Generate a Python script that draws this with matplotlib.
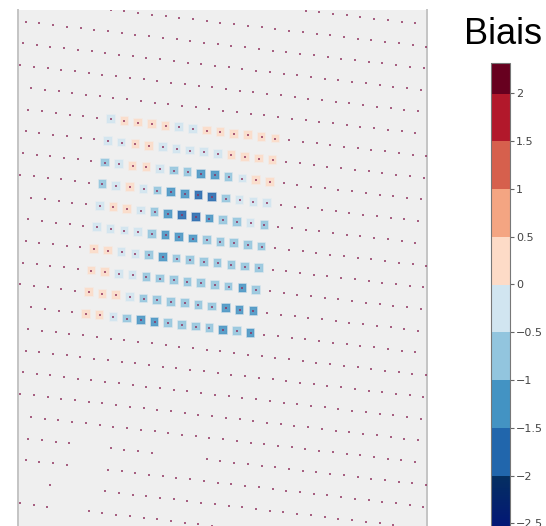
import numpy as np
import matplotlib
matplotlib.use("Agg")
import matplotlib.pyplot as plt
from matplotlib.colors import LinearSegmentedColormap, Normalize
from matplotlib.cm import ScalarMappable
from matplotlib.ticker import FixedLocator, FuncFormatter

# bias scale: band edges and band colours (lowest band fades to navy)
band_edges = [-2.8, -2.0, -1.5, -1.0, -0.5, 0.0, 0.5, 1.0, 1.5, 2.0, 2.316]
band_colors = ["#053061", "#2166ac", "#4393c3", "#92c5de", "#d1e5f0",
               "#fddbc7", "#f4a582", "#d6604d", "#b2182b", "#67001f"]
low_end_color = "#020a80"
cbar_ticks = [2, 1.5, 1, 0.5, 0, -0.5, -1, -1.5, -2, -2.5]

# model grid (map coordinates, km): origin, column step, row step
grid_origin = (92.7, 406.7)
col_step = (13.72, -1.6)
row_step = (-2.75, -21.6)
grid_cols = range(-9, 29)
grid_rows = range(-8, 23)
# grid cells with no point
missing_cells = [(1, 15), (2, 15), (7, 15), (8, 15), (9, 15), (1, 16), (2, 16),
                 (-3, 17), (-2, 17), (0, 17), (1, 17), (2, 17), (0, 18), (1, 18)]

# bias on the evaluated cells, rows top to bottom, 13 columns each
bias = [
    [-0.2, 0.3, 0.2, 0.3, 0.2, -0.1, -0.2, 0.3, 0.2, 0.3, 0.3, 0.2, 0.3],
    [-0.2, -0.3, 0.2, 0.3, -0.2, -0.2, -0.3, -0.2, -0.3, 0.2, 0.3, 0.2, 0.3],
    [-0.7, -0.3, 0.2, 0.3, -0.3, -0.7, -0.8, -1.2, -1.3, -0.8, -0.2, 0.2, 0.3],
    [-0.7, -0.2, 0.3, -0.3, -0.8, -1.2, -1.3, -1.7, -1.8, -0.8, -0.3, -0.2, -0.3],
    [-0.2, 0.2, 0.3, -0.2, -0.7, -1.3, -1.7, -1.8, -1.2, -0.8, -0.7, -0.3, -0.7],
    [-0.3, -0.2, -0.3, -0.3, -0.7, -1.2, -1.3, -1.2, -0.8, -0.7, -0.8, -0.7, -0.8],
    [0.3, 0.2, -0.3, -0.2, -0.8, -1.2, -0.7, -0.8, -0.7, -0.8, -0.7, -0.8, -0.7],
    [0.2, 0.3, -0.2, -0.3, -0.7, -0.8, -0.7, -0.8, -0.7, -0.8, -0.7, -1.2, -0.8],
    [0.3, 0.2, 0.3, -0.2, -0.8, -0.7, -0.8, -0.7, -0.8, -0.7, -1.3, -1.2, -1.3],
    [0.2, 0.3, -0.3, -0.7, -1.2, -1.3, -0.8, -0.7, -0.8, -0.7, -1.2, -0.8, -1.3],
]


def grid_to_map(i, j):
    x = grid_origin[0] + i * col_step[0] + j * row_step[0]
    y = grid_origin[1] + i * col_step[1] + j * row_step[1]
    return x, y


vmin, vmax = band_edges[0], band_edges[-1]
norm = Normalize(vmin, vmax)
nodes = []
for k, col in enumerate(band_colors):
    lo = (band_edges[k] - vmin) / (vmax - vmin)
    hi = (band_edges[k + 1] - vmin) / (vmax - vmin)
    nodes.append((lo, low_end_color if k == 0 else col))
    nodes.append((hi, col))
cmap = LinearSegmentedColormap.from_list("biais", nodes, N=1024)

W, H = 546, 526
fig = plt.figure(figsize=(W / 100, H / 100), dpi=100)

# map panel (extends below the picture edge)
ax = fig.add_axes([18 / W, 1 - 560 / H, 409 / W, 550 / H])
ax.set_facecolor("#efefef")
ax.set_xlim(0, 409)
ax.set_ylim(-34, 516)
ax.set_xticks([])
ax.set_yticks([])
for side in ["top", "bottom"]:
    ax.spines[side].set_visible(False)
for side in ["left", "right"]:
    ax.spines[side].set_color("#c4c4c4")
    ax.spines[side].set_linewidth(1.4)

# evaluated cells as squares
bias = np.array(bias)
sq_x, sq_y, sq_v = [], [], []
for j in range(bias.shape[0]):
    for i in range(bias.shape[1]):
        x, y = grid_to_map(i, j)
        sq_x.append(x)
        sq_y.append(y)
        sq_v.append(bias[j, i])
face = cmap(norm(np.array(sq_v)))
edge = face.copy()
face[:, 3] = 0.85
edge[:, 3] = 0.3
ax.scatter(sq_x, sq_y, marker="s", s=30, facecolors=face, edgecolors=edge,
           linewidths=1.4, zorder=2)

# all grid points
dot_x, dot_y = [], []
for j in grid_rows:
    for i in grid_cols:
        if (i, j) in missing_cells:
            continue
        x, y = grid_to_map(i, j)
        dot_x.append(x)
        dot_y.append(y)
ax.scatter(dot_x, dot_y, marker="s", s=2.4, color="#8e2f5c", alpha=0.75,
           linewidths=0, zorder=3)

# colour bar
cax = fig.add_axes([491 / W, 1 - 552 / H, 19 / W, 489 / H])
sm = ScalarMappable(norm=norm, cmap=cmap)
cb = fig.colorbar(sm, cax=cax)
cb.outline.set_edgecolor("#777777")
cb.outline.set_linewidth(0.8)
cb.ax.yaxis.set_major_locator(FixedLocator(cbar_ticks))
cb.ax.yaxis.set_major_formatter(FuncFormatter(lambda v, p: f"{v:g}".replace("-", "\u2212")))
cb.ax.tick_params(length=3, width=0.8, color="#666666", labelsize=8,
                  labelcolor="#444444", pad=1.5)
cb.ax.minorticks_off()

fig.text(464 / W, 1 - 34 / H, "Biais", fontsize=26, family="Liberation Sans",
         ha="left", va="center", color="black")

fig.savefig("out.png", dpi=100)
